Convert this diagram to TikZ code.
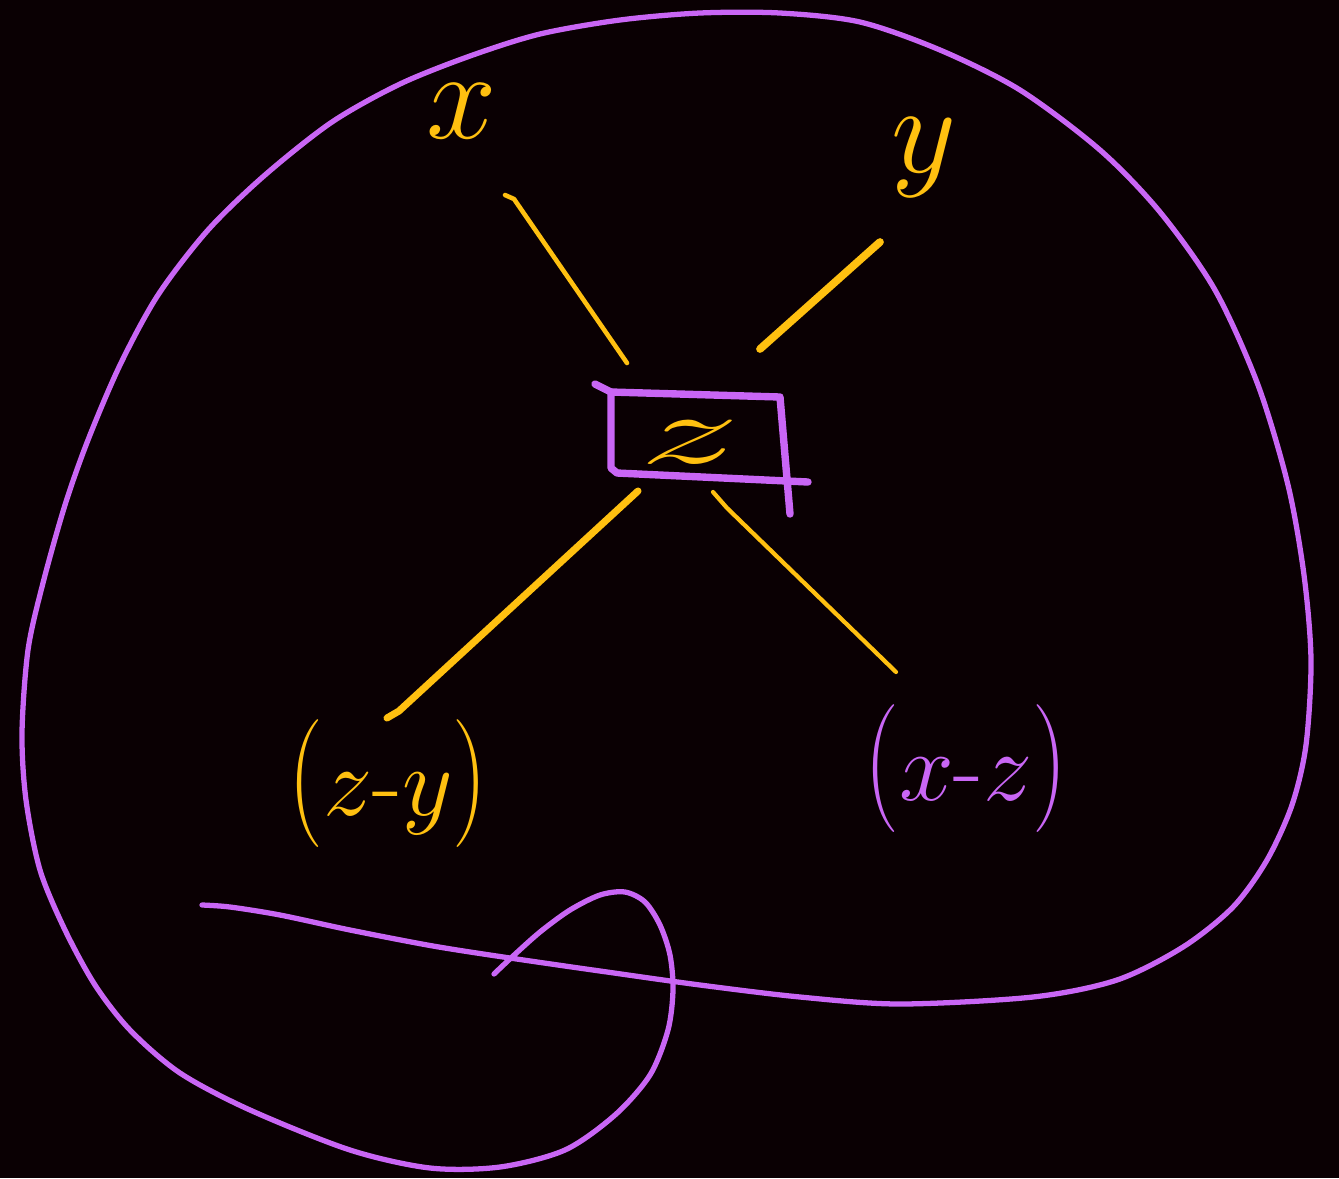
\RequirePackage{fix-cm}
\documentclass[tikz,border=0pt]{standalone}
\usepackage{graphicx}
\definecolor{bgdark}{RGB}{10,0,3}
\definecolor{inkyellow}{RGB}{255,192,16}
\definecolor{inkpurple}{RGB}{201,102,245}
\newcommand{\tallL}{\scalebox{1}[1.3]{$\big($}}
\newcommand{\tallR}{\scalebox{1}[1.3]{$\big)$}}
\tikzset{
  yellowink/.style={draw=inkyellow, line cap=round, line join=round},
  purpleink/.style={draw=inkpurple, line cap=round, line join=round},
  lbl/.style={inner sep=0pt, outer sep=0pt},
  bigfont/.style={font=\fontsize{36}{40}\selectfont},
  midfont/.style={font=\fontsize{28}{32}\selectfont}
}
\begin{document}
\begin{tikzpicture}[x=0.01cm,y=-0.01cm]
\fill[bgdark] (0,0) rectangle (1339,1178);
\useasboundingbox (0,0) rectangle (1339,1178);

% labels
\node[lbl,bigfont,text=inkyellow] (x) at (462,111) {$x$};
\node[lbl,bigfont,text=inkyellow] (y) at (924,158) {$y$};
\node[lbl,midfont,text=inkyellow] (z) at (690,442) {\scalebox{2.05}[1]{$z$}};
\node[lbl,midfont,text=inkyellow] (zy) at (388,783) {\tallL$z$-$y$\tallR};
\node[lbl,midfont,text=inkpurple] (xz) at (966,768) {\tallL$x$-$z$\tallR};

% connector end points
\coordinate (xa) at (505,195);
\coordinate (xa2) at (514,199);
\coordinate (xb) at (627,363);
\coordinate (ya) at (880,242);
\coordinate (yb) at (760,349);
\coordinate (zya) at (638,491);
\coordinate (zyb) at (399,711);
\coordinate (zyc) at (387,718);
\coordinate (xza) at (713,492);
\coordinate (xza2) at (727,508);
\coordinate (xzb) at (896,672);

% connectors
\draw[yellowink, line width=1.3pt] (xa) -- (xa2) -- (xb);
\draw[yellowink, line width=2.2pt] (ya) -- (yb);
\draw[yellowink, line width=2pt] (zya) -- (zyb) -- (zyc);
\draw[yellowink, line width=1.2pt] (xza) -- (xza2) -- (xzb);

% box around z
\draw[purpleink, line width=2.1pt] (595,384) -- (611,392) -- (611,468) -- (617,473) -- (808,482);
\draw[purpleink, line width=2.1pt] (611,392) -- (780,397) -- (790,514);

% big enclosing stroke
\draw[purpleink, line width=1.5pt] plot[smooth, tension=0.5] coordinates {
 (494,974) (512,957) (540,932) (570,910) (600,895) (625,892) (645,902) (660,925)
 (670,955) (673,990) (668,1030) (650,1075) (615,1115) (565,1150) (500,1167)
 (430,1168) (350,1150) (250,1110) (180,1073) (130,1030) (95,985) (65,930)
 (40,870) (26,800) (22,733) (28,650) (43,583) (65,505) (88,440) (120,365)
 (158,295) (208,230) (265,175) (332,122) (400,84) (470,56) (540,34) (620,20)
 (700,13) (780,13) (860,22) (940,50) (1020,90) (1100,150) (1160,212)
 (1215,290) (1258,385) (1288,485) (1304,575) (1311,660) (1306,745) (1292,805)
 (1267,860) (1233,907) (1183,947) (1117,980) (1033,997) (900,1004) (800,997)
 (700,985) (600,971) (510,958) (433,946) (350,930) (280,915) (230,907) (202,905)
};
\end{tikzpicture}
\end{document}
